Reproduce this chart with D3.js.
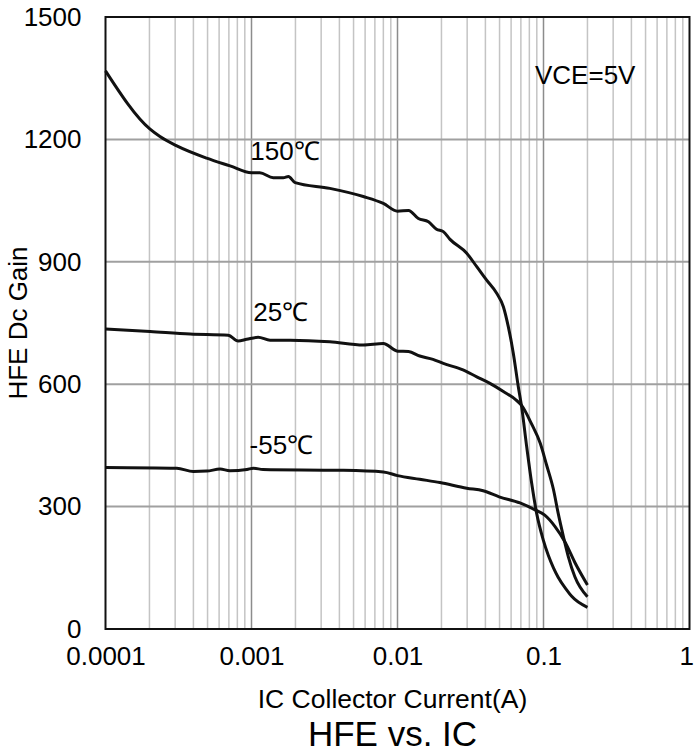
<!DOCTYPE html>
<html>
<head>
<meta charset="utf-8">
<script src="https://cdn.jsdelivr.net/npm/d3@7"></script>
<style>
  html, body { margin: 0; padding: 0; background: #fff; }
  svg { display: block; font-family: "Liberation Sans", Arial, sans-serif; }
</style>
</head>
<body>
<div id="chart"></div>
<script>
// tick values / labels
const xTicks = [0.0001, 0.001, 0.01, 0.1, 1];
const xTickLabels = ["0.0001", "0.001", "0.01", "0.1", "1"];
const yTicks = [0, 300, 600, 900, 1200, 1500];

// 150°C curve
const ic150 = [0.0001, 0.000202, 0.000236, 0.000308, 0.000493, 0.000713, 0.001, 0.00114, 0.00141, 0.00165,
  0.00179, 0.00199, 0.00344, 0.00583, 0.008, 0.01, 0.0119, 0.0139, 0.0163, 0.0185,
  0.0206, 0.0229, 0.0298, 0.0349, 0.0408, 0.0478, 0.0531, 0.0574, 0.0621, 0.0672,
  0.0708, 0.0767, 0.083, 0.0897, 0.0997, 0.108, 0.117, 0.126, 0.144, 0.156, 0.2];
const hfe150 = [1368, 1225, 1207, 1184, 1154, 1135, 1118, 1118, 1106, 1106,
  1109, 1094, 1080, 1060, 1043, 1024, 1026, 1006, 998, 980,
  974, 955, 921, 888, 855, 823, 790, 741, 676, 594,
  545, 447, 357, 284, 218, 180, 150, 127, 96, 80, 53];

// 25°C curve
const ic25 = [0.0001, 0.000202, 0.00038, 0.000693, 0.00081, 0.000927, 0.00111, 0.00134, 0.00184, 0.00344,
  0.00583, 0.008, 0.01, 0.0119, 0.0142, 0.0175, 0.0206, 0.0281, 0.0349, 0.043,
  0.0531, 0.065, 0.0708, 0.083, 0.095, 0.105, 0.117, 0.126, 0.137, 0.148, 0.164, 0.2];
const hfe25 = [735, 729, 723, 720, 706, 710, 715, 708, 708, 704,
  696, 700, 681, 680, 669, 661, 651, 635, 618, 602,
  582, 561, 548, 502, 455, 402, 342, 284, 226, 177, 128, 79];

// -55°C curve
const icM55 = [0.0001, 0.000308, 0.0004, 0.000493, 0.00061, 0.00071, 0.00093, 0.00103, 0.0012, 0.00404,
  0.008, 0.01, 0.0142, 0.0195, 0.0298, 0.0386, 0.0497, 0.069, 0.0875, 0.102,
  0.12, 0.141, 0.164, 0.2];
const hfeM55 = [396, 394, 386, 387, 392, 388, 391, 394, 391, 389,
  385, 376, 367, 359, 345, 339, 324, 309, 292, 279,
  251, 212, 163, 108];

const seriesNames = ["150℃", "25℃", "-55℃"];
const series = [
  { name: seriesNames[0], ic: ic150, hfe: hfe150 },
  { name: seriesNames[1], ic: ic25, hfe: hfe25 },
  { name: seriesNames[2], ic: icM55, hfe: hfeM55 }
];

const width = 694;
const height = 753;
const margin = { top: 17, right: 4.5, bottom: 124, left: 105.5 };

const svg = d3.select("#chart").append("svg")
  .attr("width", width)
  .attr("height", height)
  .attr("viewBox", [0, 0, width, height]);

const x = d3.scaleLog()
  .domain([0.0001, 1])
  .range([margin.left, width - margin.right]);

const y = d3.scaleLinear()
  .domain([0, 1500])
  .range([height - margin.bottom, margin.top]);

// minor vertical grid
const minor = [];
for (let e = -4; e < 0; e++) {
  for (let k = 2; k <= 9; k++) minor.push(k * Math.pow(10, e));
}
svg.append("g")
  .selectAll("line")
  .data(minor)
  .join("line")
  .attr("x1", d => x(d)).attr("x2", d => x(d))
  .attr("y1", y(0)).attr("y2", y(1500))
  .attr("stroke", "#c4c4c4")
  .attr("stroke-width", 1.5);

// decade lines
svg.append("g")
  .selectAll("line")
  .data(xTicks.slice(1, -1))
  .join("line")
  .attr("x1", d => x(d)).attr("x2", d => x(d))
  .attr("y1", y(0)).attr("y2", y(1500))
  .attr("stroke", "#8c8c8c")
  .attr("stroke-width", 1.5);

// horizontal grid
svg.append("g")
  .selectAll("line")
  .data(yTicks.slice(1, -1))
  .join("line")
  .attr("x1", x(0.0001)).attr("x2", x(1))
  .attr("y1", d => y(d)).attr("y2", d => y(d))
  .attr("stroke", "#a0a0a0")
  .attr("stroke-width", 2);

// axes (labels only)
const xAxis = svg.append("g")
  .attr("transform", `translate(0,${y(0)})`)
  .call(d3.axisBottom(x).tickValues(xTicks).tickSize(0).tickPadding(18)
    .tickFormat((d, i) => xTickLabels[i]));
xAxis.select(".domain").remove();
xAxis.selectAll("text")
  .attr("font-size", 26)
  .attr("font-family", "Liberation Sans, Arial, sans-serif")
  .attr("fill", "#000");
// last label sits at the very edge
xAxis.selectAll(".tick").filter(d => d === 1).select("text")
  .attr("text-anchor", "end")
  .attr("dx", 4);

const yAxis = svg.append("g")
  .attr("transform", `translate(${x(0.0001)},0)`)
  .call(d3.axisLeft(y).tickValues(yTicks).tickSize(0).tickPadding(24)
    .tickFormat(d3.format("d")));
yAxis.select(".domain").remove();
yAxis.selectAll("text")
  .attr("font-size", 26)
  .attr("font-family", "Liberation Sans, Arial, sans-serif")
  .attr("fill", "#000");

// curves
const line = d3.line()
  .x(d => x(d[0]))
  .y(d => y(d[1]))
  .curve(d3.curveMonotoneX);

svg.append("g")
  .selectAll("path")
  .data(series)
  .join("path")
  .attr("d", s => line(s.ic.map((v, i) => [v, s.hfe[i]])))
  .attr("fill", "none")
  .attr("stroke", "#111")
  .attr("stroke-width", 3)
  .attr("stroke-linejoin", "round");

// plot border
svg.append("rect")
  .attr("x", x(0.0001))
  .attr("y", y(1500))
  .attr("width", x(1) - x(0.0001))
  .attr("height", y(0) - y(1500))
  .attr("fill", "none")
  .attr("stroke", "#111")
  .attr("stroke-width", 2);

// curve labels
const labelPos = [
  { x: 0.00098, y: 1150 },
  { x: 0.00103, y: 755 },
  { x: 0.00097, y: 430 }
];
svg.append("g")
  .selectAll("text")
  .data(series)
  .join("text")
  .attr("x", (d, i) => x(labelPos[i].x))
  .attr("y", (d, i) => y(labelPos[i].y))
  .attr("font-size", 26)
  .attr("fill", "#000")
  .text(d => d.name);

svg.append("text")
  .attr("x", 535)
  .attr("y", 84)
  .attr("font-size", 26)
  .attr("fill", "#000")
  .text("VCE=5V");

// axis titles
svg.append("text")
  .attr("x", (x(0.0001) + x(1)) / 2 - 5)
  .attr("y", 708)
  .attr("text-anchor", "middle")
  .attr("font-size", 26.5)
  .text("IC Collector Current(A)");

svg.append("text")
  .attr("x", (x(0.0001) + x(1)) / 2 - 5)
  .attr("y", 746)
  .attr("text-anchor", "middle")
  .attr("font-size", 35)
  .text("HFE vs. IC");

svg.append("text")
  .attr("transform", `translate(27,${(y(0) + y(1500)) / 2}) rotate(-90)`)
  .attr("text-anchor", "middle")
  .attr("font-size", 26)
  .text("HFE Dc Gain");
</script>
</body>
</html>
